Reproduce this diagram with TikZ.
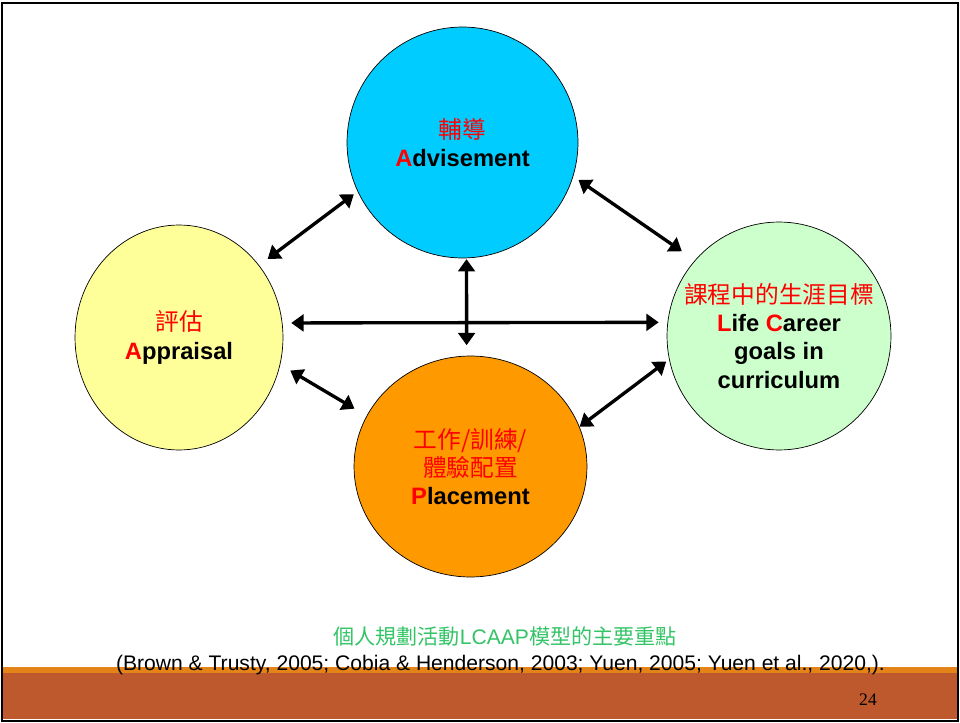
\documentclass[tikz,border=0pt]{standalone}
\usepackage{fontspec}
\setmainfont{Liberation Sans}
\newfontfamily\cjk{Noto Sans CJK TC}
\newfontfamily\pagefont{Liberation Serif}
\usetikzlibrary{arrows.meta,shapes.geometric}
\definecolor{advblue}{RGB}{0,204,255}
\definecolor{appyellow}{RGB}{255,255,153}
\definecolor{lifgreen}{RGB}{204,255,204}
\definecolor{plaorange}{RGB}{255,153,0}
\definecolor{capgreen}{RGB}{51,196,102}
\definecolor{footbrown}{RGB}{190,89,46}
\definecolor{footorange}{RGB}{228,132,24}
\newcommand{\initial}[1]{\textcolor{red}{#1}}
\newcommand{\hanzi}[1]{\textcolor{red}{\mdseries\cjk #1}}

\begin{document}
\begin{tikzpicture}[x=0.02cm,y=-0.02cm]
\tikzset{disc/.style = {shape=ellipse,draw,thin,inner sep=0pt}}
\tikzset{word/.style = {align=center,font=\fontsize{13.5}{16}\selectfont\bfseries}}
\tikzset{edge/.style = {<->,>={Triangle[length=7pt,width=9.5pt]},line width=1.9pt}}
\useasboundingbox (0,0) rectangle (960,723);
% footer and frame
\fill[footorange] (3,667) rectangle (957,673);
\fill[footbrown] (3,673) rectangle (957,719);
\draw[line width=1.2pt] (2,3) rectangle (958,721);
% vertices
\node[disc,fill=advblue,minimum width=4.62cm,minimum height=4.62cm] (adv) at (462.5,142.5) {};
\node[disc,fill=appyellow,minimum width=4.16cm,minimum height=4.5cm] (app) at (179,337.5) {};
\node[disc,fill=lifgreen,minimum width=4.48cm,minimum height=4.56cm] (lif) at (779,336) {};
\node[disc,fill=plaorange,minimum width=4.66cm,minimum height=4.42cm] (pla) at (470.5,466.5) {};
% labels
\node[word] (advtext) at (adv) {\hanzi{輔導}\\\initial{A}dvisement};
\node[word] (apptext) at (app) {\hanzi{評估}\\\initial{A}ppraisal};
\node[word] (liftext) at (lif) {\hanzi{課程中的生涯目標}\\\initial{L}ife \initial{C}areer\\goals in\\curriculum};
\node[word] (platext) at (pla) {\hanzi{工作/訓練/}\\\hanzi{體驗配置}\\\initial{P}lacement};
%edges
\draw[edge,shorten <=6pt,shorten >=2.6pt] (app.42) -- (adv.205);
\draw[edge,shorten <=3.6pt,shorten >=9pt] (adv.343) -- (lif.138);
\draw[edge,shorten <=5pt,shorten >=5pt] (app.8) -- (lif.173);
\draw[edge,shorten <=0.5pt,shorten >=6pt] (adv.272) -- (pla.92);
\draw[edge,shorten <=6.6pt,shorten >=8pt] (app.345) -- (pla.154);
\draw[edge,shorten >=2pt] (pla.20) -- (lif.192);
% caption
\node[font=\fontsize{12}{14}\selectfont,text=capgreen] (title) at (505,636) {{\cjk 個人規劃活動}LCAAP{\cjk 模型的主要重點}};
\node[font=\fontsize{12}{14}\selectfont] (cite) at (500.5,665) {(Brown \& Trusty, 2005; Cobia \& Henderson, 2003; Yuen, 2005; Yuen et al., 2020,).};
\node[font=\fontsize{10}{12}\selectfont] (page) at (868,700) {\pagefont 24};
\end{tikzpicture}
\end{document}
